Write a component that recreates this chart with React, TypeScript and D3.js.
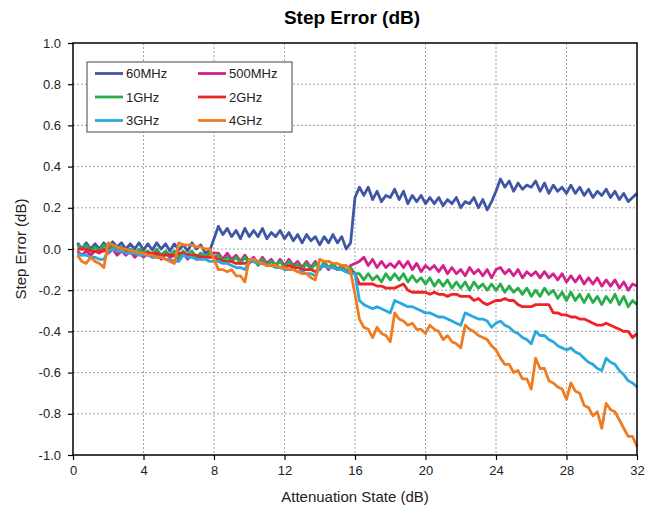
import React, { useRef, useEffect } from 'react';
import * as d3 from 'd3';

// attenuation states, 0.25 dB steps
const attenuation = d3.range(1, 129).map(i => i * 0.25);

const seriesNames = ['60MHz', '500MHz', '1GHz', '2GHz', '3GHz', '4GHz'];
const seriesColors = ['#3f56a6', '#d4208e', '#27ae4a', '#ee2328', '#2aa9e0', '#ef7b22'];

const xTicks = [0, 4, 8, 12, 16, 20, 24, 28, 32];
const yTicks = [-1.0, -0.8, -0.6, -0.4, -0.2, 0.0, 0.2, 0.4, 0.6, 0.8, 1.0];

// step error (dB), one row = 2 dB
const err60MHz = [
  0.03, 0.0, 0.03, 0.0, 0.025, 0.0, 0.03, 0.005,
  0.035, 0.01, 0.03, 0.0, 0.025, 0.0, 0.03, -0.005,
  0.025, -0.005, 0.03, 0.0, 0.025, -0.01, 0.025, -0.005,
  0.02, -0.01, 0.03, 0.0, 0.02, -0.02, -0.01, 0.05,
  0.11, 0.07, 0.1, 0.06, 0.09, 0.05, 0.1, 0.06,
  0.09, 0.06, 0.1, 0.05, 0.08, 0.06, 0.09, 0.05,
  0.08, 0.04, 0.07, 0.03, 0.07, 0.04, 0.06, 0.02,
  0.06, 0.03, 0.07, 0.03, 0.06, 0.0, 0.03, 0.25,
  0.3, 0.26, 0.3, 0.24, 0.28, 0.23, 0.26, 0.25,
  0.29, 0.24, 0.28, 0.22, 0.26, 0.23, 0.26, 0.22,
  0.25, 0.22, 0.25, 0.21, 0.24, 0.22, 0.25, 0.2,
  0.23, 0.22, 0.25, 0.2, 0.24, 0.19, 0.23, 0.28,
  0.34, 0.3, 0.33, 0.28, 0.32, 0.29, 0.31, 0.3,
  0.33, 0.28, 0.32, 0.27, 0.31, 0.28, 0.3, 0.27,
  0.31, 0.27, 0.3, 0.26, 0.29, 0.25, 0.28, 0.26,
  0.29, 0.25, 0.28, 0.24, 0.27, 0.23, 0.25, 0.27,
];

const err500MHz = [
  -0.01, -0.03, -0.01, -0.03, -0.01, -0.02, 0.0, -0.02,
  0.0, -0.03, -0.01, -0.03, -0.01, -0.04, -0.02, -0.04,
  -0.02, -0.04, -0.02, -0.05, -0.02, -0.04, -0.03, -0.05,
  -0.02, -0.05, -0.03, -0.05, -0.02, -0.04, -0.02, -0.02,
  -0.02, -0.05, -0.02, -0.05, -0.03, -0.06, -0.03, -0.06,
  -0.04, -0.07, -0.04, -0.07, -0.05, -0.08, -0.05, -0.08,
  -0.05, -0.08, -0.06, -0.09, -0.06, -0.09, -0.06, -0.1,
  -0.07, -0.1, -0.07, -0.1, -0.08, -0.11, -0.08, -0.07,
  -0.06, -0.04, -0.08, -0.05, -0.09, -0.06, -0.09, -0.07,
  -0.09, -0.06, -0.09, -0.06, -0.1, -0.07, -0.11, -0.08,
  -0.1, -0.08, -0.11, -0.08, -0.12, -0.09, -0.12, -0.1,
  -0.13, -0.09, -0.12, -0.1, -0.13, -0.1, -0.14, -0.1,
  -0.09, -0.12, -0.1, -0.13, -0.1, -0.14, -0.11, -0.13,
  -0.11, -0.14, -0.11, -0.14, -0.12, -0.15, -0.12, -0.16,
  -0.13, -0.16, -0.13, -0.17, -0.14, -0.17, -0.14, -0.18,
  -0.15, -0.18, -0.15, -0.19, -0.16, -0.2, -0.17, -0.18,
];

const err1GHz = [
  0.02, 0.0, 0.02, -0.01, 0.01, -0.01, 0.02, 0.0,
  0.02, -0.01, 0.01, -0.01, 0.0, -0.02, 0.0, -0.02,
  -0.01, -0.03, 0.0, -0.03, -0.01, -0.03, -0.01, -0.04,
  -0.01, -0.03, -0.01, -0.04, -0.02, -0.04, -0.02, -0.04,
  -0.03, -0.06, -0.04, -0.06, -0.04, -0.07, -0.04, -0.07,
  -0.05, -0.08, -0.05, -0.08, -0.06, -0.08, -0.06, -0.09,
  -0.06, -0.09, -0.07, -0.1, -0.07, -0.1, -0.07, -0.1,
  -0.06, -0.09, -0.07, -0.1, -0.08, -0.11, -0.09, -0.12,
  -0.12, -0.15, -0.12, -0.15, -0.13, -0.16, -0.12, -0.15,
  -0.12, -0.15, -0.12, -0.16, -0.13, -0.16, -0.14, -0.17,
  -0.14, -0.18, -0.15, -0.18, -0.15, -0.19, -0.16, -0.19,
  -0.16, -0.2, -0.16, -0.19, -0.17, -0.2, -0.17, -0.2,
  -0.17, -0.21, -0.18, -0.21, -0.19, -0.22, -0.19, -0.23,
  -0.2, -0.23, -0.19, -0.22, -0.2, -0.24, -0.21, -0.25,
  -0.21, -0.25, -0.22, -0.26, -0.22, -0.26, -0.23, -0.27,
  -0.23, -0.26, -0.22, -0.27, -0.23, -0.28, -0.25, -0.27,
];

const err2GHz = [
  0.0, 0.0, 0.0, -0.01, -0.01, -0.01, -0.01, 0.0,
  0.0, -0.01, -0.01, -0.01, -0.02, -0.02, -0.02, -0.02,
  -0.02, -0.02, -0.02, -0.03, -0.03, -0.03, -0.03, -0.02,
  -0.02, -0.03, -0.03, -0.03, -0.04, -0.04, -0.04, -0.04,
  -0.05, -0.06, -0.06, -0.06, -0.07, -0.07, -0.07, -0.06,
  -0.06, -0.07, -0.07, -0.08, -0.08, -0.08, -0.09, -0.09,
  -0.08, -0.09, -0.09, -0.1, -0.1, -0.1, -0.11, -0.09,
  -0.08, -0.09, -0.09, -0.1, -0.1, -0.11, -0.11, -0.12,
  -0.17, -0.17, -0.17, -0.17, -0.18, -0.18, -0.19, -0.19,
  -0.19, -0.18, -0.17, -0.2, -0.21, -0.21, -0.21, -0.21,
  -0.22, -0.21, -0.22, -0.22, -0.23, -0.22, -0.22, -0.23,
  -0.23, -0.23, -0.25, -0.24, -0.26, -0.27, -0.26, -0.25,
  -0.25, -0.24, -0.25, -0.25, -0.27, -0.28, -0.28, -0.28,
  -0.27, -0.27, -0.27, -0.27, -0.31, -0.31, -0.32, -0.32,
  -0.33, -0.33, -0.34, -0.34, -0.35, -0.36, -0.37, -0.37,
  -0.36, -0.37, -0.38, -0.39, -0.4, -0.4, -0.43, -0.41,
];

const err3GHz = [
  -0.02, -0.03, -0.03, -0.04, -0.04, -0.05, -0.05, -0.01,
  0.0, -0.01, -0.01, -0.02, -0.02, -0.02, -0.03, -0.03,
  -0.03, -0.04, -0.04, -0.04, -0.05, -0.05, -0.06, -0.06,
  -0.03, -0.04, -0.04, -0.05, -0.05, -0.05, -0.06, -0.06,
  -0.06, -0.07, -0.07, -0.08, -0.09, -0.09, -0.1, -0.06,
  -0.06, -0.07, -0.07, -0.08, -0.08, -0.09, -0.09, -0.1,
  -0.1, -0.1, -0.11, -0.11, -0.12, -0.12, -0.13, -0.09,
  -0.08, -0.09, -0.09, -0.1, -0.1, -0.11, -0.12, -0.12,
  -0.25, -0.27, -0.28, -0.29, -0.28, -0.29, -0.3, -0.31,
  -0.25, -0.26, -0.27, -0.28, -0.28, -0.29, -0.3, -0.31,
  -0.31, -0.32, -0.33, -0.33, -0.34, -0.35, -0.36, -0.37,
  -0.31, -0.32, -0.33, -0.34, -0.34, -0.35, -0.38, -0.36,
  -0.35, -0.37, -0.38, -0.4, -0.41, -0.43, -0.44, -0.46,
  -0.4, -0.42, -0.42, -0.44, -0.45, -0.47, -0.48, -0.49,
  -0.48, -0.5, -0.51, -0.53, -0.55, -0.56, -0.58, -0.59,
  -0.53, -0.55, -0.56, -0.59, -0.61, -0.64, -0.65, -0.67,
];

const err4GHz = [
  -0.03, -0.06, -0.07, -0.04, -0.06, -0.07, -0.09, 0.03,
  0.02, 0.01, 0.0, 0.0, -0.01, -0.01, -0.02, -0.02,
  -0.03, -0.03, -0.04, -0.04, -0.05, -0.06, -0.07, 0.03,
  0.02, 0.02, 0.02, 0.01, 0.01, 0.0, 0.0, -0.05,
  -0.1, -0.1, -0.11, -0.1, -0.13, -0.13, -0.16, -0.05,
  -0.05, -0.06, -0.07, -0.08, -0.08, -0.08, -0.09, -0.09,
  -0.1, -0.1, -0.11, -0.12, -0.12, -0.14, -0.15, -0.05,
  -0.06, -0.06, -0.07, -0.07, -0.08, -0.08, -0.11, -0.22,
  -0.34, -0.38, -0.39, -0.43, -0.38, -0.41, -0.42, -0.45,
  -0.31, -0.34, -0.35, -0.37, -0.36, -0.39, -0.39, -0.41,
  -0.37, -0.39, -0.4, -0.44, -0.42, -0.45, -0.46, -0.48,
  -0.37, -0.39, -0.4, -0.42, -0.43, -0.44, -0.47, -0.49,
  -0.53, -0.56, -0.56, -0.6, -0.59, -0.63, -0.63, -0.68,
  -0.53, -0.58, -0.58, -0.64, -0.65, -0.67, -0.68, -0.73,
  -0.65, -0.69, -0.7, -0.76, -0.77, -0.81, -0.79, -0.87,
  -0.75, -0.78, -0.79, -0.83, -0.87, -0.91, -0.91, -0.96,
];

const seriesValues = [err60MHz, err500MHz, err1GHz, err2GHz, err3GHz, err4GHz];

const FONT = '"Liberation Sans", Arial, sans-serif';

function fmt(v: number) {
  const s = v.toFixed(1);
  return s === '-0.0' ? '0.0' : s;
}

export default function App() {
  const svgRef = useRef<SVGSVGElement>(null);

  useEffect(() => {
    const w = 655;
    const h = 510;
    const left = 73, right = 637, top = 43, bottom = 455;

    const svg = d3.select(svgRef.current);
    svg.selectAll('*').remove();
    svg.attr('width', w).attr('height', h);

    const x = d3.scaleLinear().domain([0, 32]).range([left, right]);
    const y = d3.scaleLinear().domain([-1, 1]).range([bottom, top]);

    svg.append('rect').attr('width', w).attr('height', h).attr('fill', '#fff');

    // dotted grid
    const grid = svg.append('g').attr('stroke', '#8a8a8a').attr('stroke-width', 0.8).attr('stroke-dasharray', '2,2');
    grid.selectAll('.gy').data(yTicks.slice(1, -1)).enter().append('line')
      .attr('x1', left).attr('x2', right)
      .attr('y1', d => y(d)).attr('y2', d => y(d));
    grid.selectAll('.gx').data(xTicks.slice(1, -1)).enter().append('line')
      .attr('y1', top).attr('y2', bottom)
      .attr('x1', d => x(d)).attr('x2', d => x(d));

    // axes
    const yAxis = d3.axisLeft(y).tickValues(yTicks).tickSize(5).tickSizeOuter(0).tickPadding(7)
      .tickFormat(d => fmt(d as number));
    const gy = svg.append('g').attr('transform', `translate(${left},0)`).call(yAxis);
    const xAxis = d3.axisBottom(x).tickValues(xTicks).tickSize(5).tickSizeOuter(0).tickPadding(6)
      .tickFormat(d => String(d));
    const gx = svg.append('g').attr('transform', `translate(0,${bottom})`).call(xAxis);
    [gy, gx].forEach(g => {
      g.select('.domain').remove();
      g.selectAll('line').attr('stroke', '#000').attr('stroke-width', 1.2);
      g.selectAll('text').attr('fill', '#222').style('font-family', FONT).style('font-size', '13px');
    });

    // lines
    const line = d3.line<[number, number]>().x(d => x(d[0])).y(d => y(d[1]));
    seriesValues.forEach((vals, i) => {
      const pts = attenuation.map((a, j) => [a, vals[j]] as [number, number]);
      svg.append('path').datum(pts)
        .attr('d', line)
        .attr('fill', 'none')
        .attr('stroke', seriesColors[i])
        .attr('stroke-width', 2.8)
        .attr('stroke-linejoin', 'round');
    });

    // frame
    svg.append('rect').attr('x', left).attr('y', top)
      .attr('width', right - left).attr('height', bottom - top)
      .attr('fill', 'none').attr('stroke', '#000').attr('stroke-width', 1.5);

    // legend
    const lg = svg.append('g');
    lg.append('rect').attr('x', 87).attr('y', 62).attr('width', 205).attr('height', 70)
      .attr('fill', '#fff').attr('stroke', '#444').attr('stroke-width', 1);
    seriesNames.forEach((name, i) => {
      const cx = i % 2 === 0 ? 95 : 198;
      const cy = 73.5 + Math.floor(i / 2) * 23.5;
      lg.append('line').attr('x1', cx).attr('x2', cx + 28).attr('y1', cy).attr('y2', cy)
        .attr('stroke', seriesColors[i]).attr('stroke-width', 2.8);
      lg.append('text').attr('x', cx + 31).attr('y', cy).attr('dy', '0.35em')
        .style('font-family', FONT).style('font-size', '13px').attr('fill', '#222')
        .text(name);
    });

    // titles
    svg.append('text').attr('x', 352).attr('y', 24).attr('text-anchor', 'middle')
      .style('font-family', FONT).style('font-size', '19px').style('font-weight', 'bold')
      .text('Step Error (dB)');
    svg.append('text').attr('transform', `translate(21,${(top + bottom) / 2}) rotate(-90)`)
      .attr('text-anchor', 'middle').attr('dy', '0.35em')
      .style('font-family', FONT).style('font-size', '15px').attr('fill', '#222')
      .text('Step Error (dB)');
    svg.append('text').attr('x', (left + right) / 2).attr('y', 502).attr('text-anchor', 'middle')
      .style('font-family', FONT).style('font-size', '15px').attr('fill', '#222')
      .text('Attenuation State (dB)');
  }, []);

  return (
    <div style={{ position: 'absolute', left: 0, top: 0 }}>
      <svg ref={svgRef} style={{ display: 'block' }}></svg>
    </div>
  );
}
